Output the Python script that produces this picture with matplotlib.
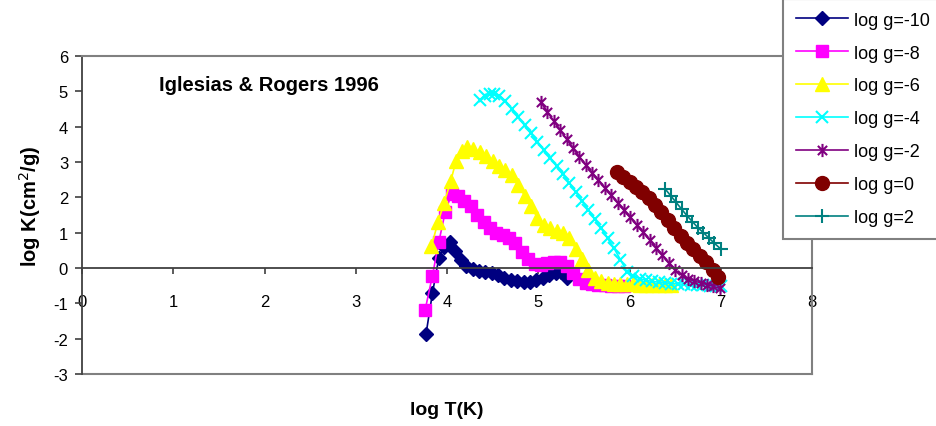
import matplotlib
matplotlib.use("Agg")
import matplotlib.pyplot as plt
from matplotlib.path import Path

plt.rcParams['font.family'] = ['Liberation Sans', 'DejaVu Sans']
plt.rcParams['axes.unicode_minus'] = False

# opacity curves, log K vs log T
x_m10 = [3.77, 3.84, 3.91, 3.97, 4.03, 4.09, 4.15, 4.21, 4.28, 4.35, 4.42, 4.49,
         4.56, 4.63, 4.70, 4.77, 4.84, 4.91, 4.98, 5.05, 5.12, 5.19, 5.25, 5.31]
y_m10 = [-1.87, -0.72, 0.28, 0.60, 0.73, 0.49, 0.22, 0.06, -0.03, -0.08, -0.10, -0.14,
         -0.20, -0.27, -0.33, -0.38, -0.40, -0.39, -0.34, -0.27, -0.20, -0.14, -0.12, -0.28]

x_m8 = [3.76, 3.84, 3.91, 3.98, 4.05, 4.12, 4.19, 4.26, 4.33, 4.40, 4.47, 4.54,
        4.61, 4.68, 4.75, 4.82, 4.89, 4.96, 5.03, 5.10, 5.17, 5.24, 5.31, 5.38,
        5.45, 5.52, 5.59, 5.66, 5.73, 5.80, 5.87, 5.94]
y_m8 = [-1.19, -0.22, 0.73, 1.58, 2.10, 2.05, 1.90, 1.75, 1.50, 1.30, 1.12, 1.00,
        0.92, 0.85, 0.70, 0.45, 0.25, 0.12, 0.08, 0.14, 0.18, 0.18, 0.05, -0.15,
        -0.32, -0.42, -0.46, -0.48, -0.49, -0.50, -0.50, -0.50]

x_m6 = [3.83, 3.90, 3.97, 4.04, 4.10, 4.16, 4.22, 4.29, 4.36, 4.43, 4.50, 4.57,
        4.64, 4.71, 4.78, 4.85, 4.92, 4.99, 5.06, 5.13, 5.20, 5.27, 5.34, 5.41,
        5.48, 5.55, 5.62, 5.69, 5.76, 5.83, 5.90, 5.97, 6.04, 6.11, 6.18, 6.25,
        6.32, 6.39, 6.46]
y_m6 = [0.62, 1.29, 1.85, 2.45, 3.04, 3.30, 3.42, 3.37, 3.28, 3.18, 3.04, 2.90,
        2.78, 2.62, 2.35, 2.05, 1.75, 1.42, 1.22, 1.12, 1.05, 0.98, 0.85, 0.55,
        0.25, -0.05, -0.28, -0.38, -0.42, -0.44, -0.45, -0.46, -0.46, -0.47, -0.47, -0.48,
        -0.48, -0.48, -0.49]

x_m4 = [4.36, 4.42, 4.47, 4.52, 4.57, 4.64, 4.71, 4.78, 4.85, 4.92, 4.99, 5.06,
        5.13, 5.20, 5.27, 5.34, 5.41, 5.48, 5.55, 5.62, 5.69, 5.76, 5.83, 5.90,
        5.97, 6.04, 6.11, 6.18, 6.25, 6.32, 6.39, 6.46, 6.53, 6.60, 6.67, 6.74,
        6.81, 6.88, 6.95, 7.00]
y_m4 = [4.76, 4.88, 4.92, 4.92, 4.88, 4.73, 4.50, 4.27, 4.04, 3.81, 3.58, 3.35,
        3.12, 2.89, 2.65, 2.41, 2.16, 1.90, 1.64, 1.38, 1.12, 0.84, 0.56, 0.24,
        -0.10, -0.22, -0.30, -0.35, -0.38, -0.40, -0.42, -0.44, -0.45, -0.46, -0.47, -0.48,
        -0.49, -0.50, -0.50, -0.50]

x_m2 = [5.03, 5.10, 5.17, 5.24, 5.31, 5.38, 5.45, 5.52, 5.59, 5.66, 5.73, 5.80,
        5.87, 5.94, 6.01, 6.08, 6.15, 6.22, 6.29, 6.36, 6.43, 6.50, 6.57, 6.64,
        6.71, 6.78, 6.85, 6.92, 6.99]
y_m2 = [4.69, 4.42, 4.16, 3.90, 3.65, 3.40, 3.15, 2.92, 2.70, 2.48, 2.27, 2.06,
        1.85, 1.64, 1.43, 1.22, 1.01, 0.80, 0.58, 0.36, 0.15, -0.05, -0.20, -0.30,
        -0.37, -0.42, -0.47, -0.52, -0.58]

x_0 = [5.86, 5.93, 6.00, 6.07, 6.14, 6.21, 6.28, 6.35, 6.42, 6.49, 6.56, 6.63,
       6.70, 6.77, 6.84, 6.91, 6.97]
y_0 = [2.71, 2.57, 2.43, 2.28, 2.16, 1.98, 1.79, 1.58, 1.35, 1.12, 0.90, 0.72,
       0.54, 0.35, 0.16, -0.05, -0.26]

x_2 = [6.39, 6.45, 6.51, 6.57, 6.63, 6.69, 6.75, 6.81, 6.87, 6.93, 7.00]
y_2 = [2.24, 2.05, 1.86, 1.67, 1.48, 1.31, 1.14, 1.00, 0.85, 0.70, 0.54]

labels = ['log g=-10', 'log g=-8', 'log g=-6', 'log g=-4', 'log g=-2', 'log g=0', 'log g=2']

# excel style asterisk: x with a vertical bar
star = Path([(0, -1), (0, 1), (-0.7, -0.7), (0.7, 0.7), (-0.7, 0.7), (0.7, -0.7)],
            [Path.MOVETO, Path.LINETO, Path.MOVETO, Path.LINETO, Path.MOVETO, Path.LINETO])

series = [
    (x_m10, y_m10, '#000080', 'D', 7, 1.0),
    (x_m8, y_m8, '#FF00FF', 's', 8.5, 1.0),
    (x_m6, y_m6, '#FFFF00', '^', 9.5, 1.0),
    (x_m4, y_m4, '#00FFFF', 'x', 8.5, 1.5),
    (x_m2, y_m2, '#800080', star, 9.5, 1.5),
    (x_0, y_0, '#800000', 'o', 10, 1.0),
    (x_2, y_2, '#008080', '+', 9.5, 1.5),
]

fig = plt.figure(figsize=(9.36, 4.27), dpi=100)
ax = fig.add_axes([82 / 936, 52 / 427, 730 / 936, 318 / 427])

for (xs, ys, c, m, ms, mew), lab in zip(series, labels):
    ax.plot(xs, ys, color=c, marker=m, markersize=ms, markeredgewidth=mew,
            markerfacecolor=c, markeredgecolor=c, lw=1.2, label=lab)

ax.set_xlim(0, 8)
ax.set_ylim(-3, 6)
ax.set_xticks(range(0, 9))
ax.set_yticks(range(-3, 7))

ax.spines['bottom'].set_position(('data', 0))
ax.spines['bottom'].set_color('#404040')
ax.spines['left'].set_color('#404040')
ax.spines['bottom'].set_linewidth(1.3)
ax.spines['left'].set_linewidth(1.3)
ax.spines['top'].set_color('#808080')
ax.spines['right'].set_color('#808080')
ax.spines['top'].set_linewidth(1.5)
ax.spines['right'].set_linewidth(1.5)
ax.plot([0, 1], [0, 0], transform=ax.transAxes, color='#808080', lw=1.5, clip_on=False)

ax.tick_params(axis='x', direction='out', length=4, width=1.2, color='#404040',
               labelsize=12, pad=15)
ax.tick_params(axis='y', direction='out', length=5, width=1.2, color='#404040',
               labelsize=12, pad=5)

ax.text(0.84, 5.2, 'Iglesias & Rogers 1996', fontsize=14.5, fontweight='bold',
        ha='left', va='center')

ax.set_xlabel('log T(K)', fontsize=14, fontweight='bold')
ax.xaxis.set_label_coords(0.5, -0.085)
ax.set_ylabel('log K(cm$^2$/g)', fontsize=14.5, fontweight='bold')
ax.yaxis.set_label_coords(-0.053, 0.53)

leg = fig.legend(loc='upper left', bbox_to_anchor=(783 / 936, 1.0), borderaxespad=0,
                 fontsize=13, frameon=True, fancybox=False, edgecolor='#808080',
                 framealpha=1, handlelength=2.9, handletextpad=0.35,
                 labelspacing=0.88, borderpad=0.7)
leg.get_frame().set_linewidth(1.5)

fig.savefig('out.png', dpi=100)
